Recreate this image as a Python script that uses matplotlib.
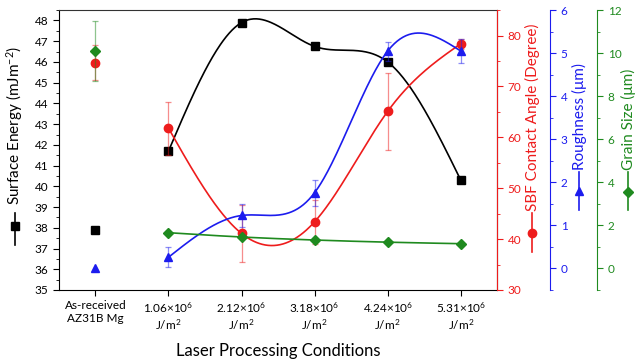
import numpy as np
import matplotlib
matplotlib.use('Agg')
import matplotlib.pyplot as plt
from matplotlib.lines import Line2D
from matplotlib.ticker import MultipleLocator

plt.rcParams['font.family'] = ['Lato', 'DejaVu Sans']
plt.rcParams['mathtext.fontset'] = 'custom'
plt.rcParams['mathtext.rm'] = 'Lato'
plt.rcParams['mathtext.it'] = 'Lato:italic'

# data
categories = ['As-received\nAZ31B Mg', '1.06×10$^6$\nJ/m$^2$', '2.12×10$^6$\nJ/m$^2$',
              '3.18×10$^6$\nJ/m$^2$', '4.24×10$^6$\nJ/m$^2$', '5.31×10$^6$\nJ/m$^2$']
surf_energy = [37.9, 41.7, 47.9, 46.75, 46.0, 40.3]
contact_angle = [74.7, 61.8, 41.1, 43.4, 65.1, 78.4]
contact_err = [3.5, 5.2, 5.6, 4.3, 7.6, 1.0]
roughness = [0.0, 0.26, 1.23, 1.76, 5.05, 5.05]
rough_err = [0.0, 0.23, 0.27, 0.3, 0.22, 0.28]
grain = [10.1, 1.66, 1.46, 1.32, 1.22, 1.15]
grain_err = [1.4, 0.0, 0.0, 0.0, 0.0, 0.0]

RED = '#ee1c1c'
BLUE = '#1c1cee'
GREEN = '#1f8a1f'


def nat_spline(x, y, n=300):
    # natural cubic spline through the points
    x = np.asarray(x, float)
    y = np.asarray(y, float)
    k = len(x)
    h = np.diff(x)
    A = np.zeros((k, k))
    b = np.zeros(k)
    A[0, 0] = 1
    A[-1, -1] = 1
    for i in range(1, k - 1):
        A[i, i - 1] = h[i - 1]
        A[i, i] = 2 * (h[i - 1] + h[i])
        A[i, i + 1] = h[i]
        b[i] = 6 * ((y[i + 1] - y[i]) / h[i] - (y[i] - y[i - 1]) / h[i - 1])
    M = np.linalg.solve(A, b)
    xs = np.linspace(x[0], x[-1], n)
    ys = np.zeros_like(xs)
    for j, t in enumerate(xs):
        i = min(np.searchsorted(x, t, side='right') - 1, k - 2)
        a = x[i + 1] - t
        c = t - x[i]
        ys[j] = (M[i] * a ** 3 + M[i + 1] * c ** 3) / (6 * h[i]) \
            + (y[i] / h[i] - M[i] * h[i] / 6) * a + (y[i + 1] / h[i] - M[i + 1] * h[i] / 6) * c
    return xs, ys


x = np.arange(len(categories))

fig = plt.figure(figsize=(6.4, 3.62), dpi=100)
ax = fig.add_axes([0.092, 0.199, 0.685, 0.773])

# surface energy
xs, ys = nat_spline(x[1:], surf_energy[1:])
ax.plot(xs, ys, color='black', lw=1.2, zorder=2)
ax.plot(x, surf_energy, 's', color='black', ms=5.5, zorder=3)
ax.set_xlim(-0.5, 5.5)
ax.set_ylim(35, 48.5)
ax.yaxis.set_major_locator(MultipleLocator(1))
ax.yaxis.set_minor_locator(MultipleLocator(0.5))
ax.set_xticks(x)
ax.set_xticklabels(categories, fontsize=8.5)
ax.tick_params(axis='y', labelsize=8.5, direction='out', length=4)
ax.tick_params(axis='y', which='minor', direction='out', length=2.5)
ax.tick_params(axis='x', direction='out', length=4)
ax.spines['top'].set_color('#333333')
ax.set_xlabel('Laser Processing Conditions', fontsize=12, labelpad=8)

# contact angle
ax2 = ax.twinx()
ax2.errorbar(x, contact_angle, yerr=contact_err, fmt='none', ecolor=RED, alpha=0.5,
             capsize=2.5, elinewidth=0.9, capthick=0.9)
xs, ys = nat_spline(x[1:], contact_angle[1:])
ax2.plot(xs, ys, color=RED, lw=1.2)
ax2.plot(x, contact_angle, 'o', color=RED, ms=6)
ax2.set_ylim(30, 85)
ax2.yaxis.set_major_locator(MultipleLocator(10))
ax2.yaxis.set_minor_locator(MultipleLocator(5))
ax2.spines['right'].set_color(RED)
ax2.tick_params(axis='y', which='both', colors=RED, labelsize=8.5, direction='out')
ax2.tick_params(axis='y', which='major', length=4)
ax2.tick_params(axis='y', which='minor', length=2.5)
for s in ['left', 'top', 'bottom']:
    ax2.spines[s].set_visible(False)

# roughness
ax3 = ax.twinx()
ax3.spines['right'].set_position(('axes', 1.121))
ax3.errorbar(x[1:], roughness[1:], yerr=rough_err[1:], fmt='none', ecolor=BLUE, alpha=0.5,
             capsize=2.5, elinewidth=0.9, capthick=0.9)
xs, ys = nat_spline(x[1:], roughness[1:])
ax3.plot(xs, ys, color=BLUE, lw=1.2)
ax3.plot(x, roughness, '^', color=BLUE, ms=6)
ax3.set_ylim(-0.5, 6)
ax3.yaxis.set_major_locator(MultipleLocator(1))
ax3.yaxis.set_minor_locator(MultipleLocator(0.5))
ax3.spines['right'].set_color(BLUE)
ax3.tick_params(axis='y', which='both', colors=BLUE, labelsize=8.5, direction='out')
ax3.tick_params(axis='y', which='major', length=4)
ax3.tick_params(axis='y', which='minor', length=2.5)
for s in ['left', 'top', 'bottom']:
    ax3.spines[s].set_visible(False)

# grain size
ax4 = ax.twinx()
ax4.spines['right'].set_position(('axes', 1.228))
ax4.errorbar(x[:1], grain[:1], yerr=grain_err[:1], fmt='none', ecolor=GREEN, alpha=0.5,
             capsize=2.5, elinewidth=0.9, capthick=0.9)
xs, ys = nat_spline(x[1:], grain[1:])
ax4.plot(xs, ys, color=GREEN, lw=1.2)
ax4.plot(x, grain, 'D', color=GREEN, ms=5)
ax4.set_ylim(-1, 12)
ax4.yaxis.set_major_locator(MultipleLocator(2))
ax4.yaxis.set_minor_locator(MultipleLocator(1))
ax4.spines['right'].set_color(GREEN)
ax4.tick_params(axis='y', which='both', colors=GREEN, labelsize=8.5, direction='out')
ax4.tick_params(axis='y', which='major', length=4)
ax4.tick_params(axis='y', which='minor', length=2.5)
for s in ['left', 'top', 'bottom']:
    ax4.spines[s].set_visible(False)

W, H = 640.0, 362.0


def axis_label(xp, ybot, sym_top, sym_mid, sym_bot, text, color, marker, ms):
    fig.text(xp / W, 1 - ybot / H, text, rotation=90, ha='center', va='bottom',
             fontsize=11, color=color)
    fig.add_artist(Line2D([xp / W, xp / W], [1 - sym_top / H, 1 - sym_bot / H],
                          color=color, lw=1.2))
    fig.add_artist(Line2D([xp / W], [1 - sym_mid / H], marker=marker, color=color,
                          ms=ms, lw=0))


axis_label(15, 205, 213, 226, 245, 'Surface Energy (mJm$^{-2}$)', 'black', 's', 5.5)
axis_label(532, 211, 213, 233, 252, 'SBF Contact Angle (Degree)', RED, 'o', 6)
axis_label(579, 170, 172, 191, 210, 'Roughness (μm)', BLUE, '^', 6)
axis_label(628, 170, 172, 192, 210, 'Grain Size (μm)', GREEN, 'D', 5)

fig.savefig('out.png', dpi=100)
